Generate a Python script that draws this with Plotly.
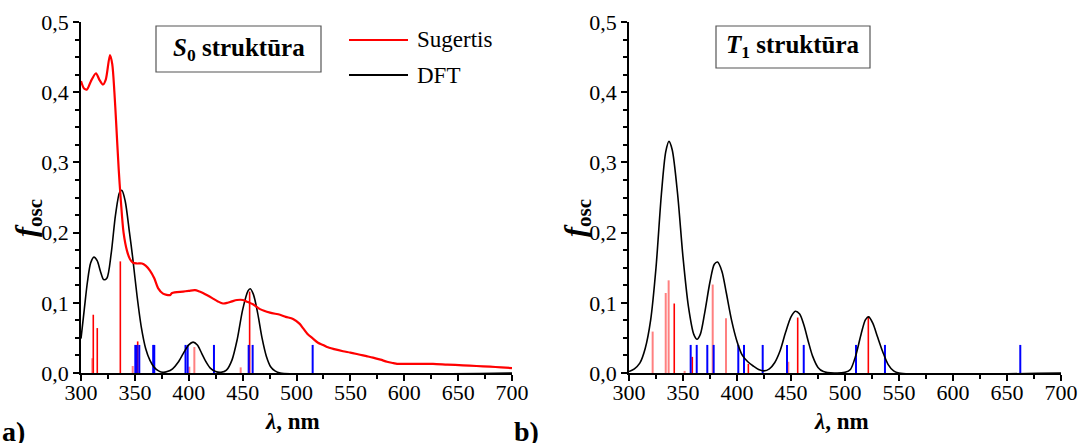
import plotly.graph_objects as go

# ---------------- data ----------------
# Panel a) experimental absorption (Sugertis)
exp_nm = [300, 303, 305.6, 309, 313.9, 317, 320.4, 323, 326.9, 329, 331, 332.5, 335, 337, 339.5,
          342.7, 345.5, 348.3, 352, 356.6, 360, 364, 368, 371.5, 376.1, 382.6, 384.5, 394.7, 400,
          405.8, 410, 413.2, 418, 422.5, 427, 431.8, 436, 440, 444.8, 450.3, 455, 459.6, 466.1,
          475.4, 484.7, 490, 496.8, 503, 506, 510, 515.3, 520, 524.6, 528.3, 535, 543.2, 550, 559,
          565, 571, 578, 584, 590, 593.3, 600, 614.6, 626.7, 640, 654.5, 667, 679.6, 690, 700]
exp_f = [0.416, 0.405, 0.404, 0.415, 0.427, 0.418, 0.411, 0.418, 0.453, 0.44, 0.40, 0.36, 0.29,
         0.245, 0.20, 0.174, 0.162, 0.157, 0.156, 0.156, 0.153, 0.146, 0.135, 0.121, 0.113, 0.111,
         0.114, 0.116, 0.117, 0.118, 0.116, 0.114, 0.110, 0.106, 0.102, 0.099, 0.100, 0.102, 0.104,
         0.104, 0.101, 0.098, 0.091, 0.086, 0.083, 0.080, 0.077, 0.070, 0.064, 0.056, 0.049, 0.043,
         0.040, 0.037, 0.034, 0.031, 0.029, 0.026, 0.024, 0.022, 0.019, 0.016, 0.014, 0.013, 0.013,
         0.013, 0.013, 0.012, 0.011, 0.010, 0.009, 0.008, 0.007]

# Panel a) DFT broadened spectrum
dftA_nm = [300, 303, 306, 309, 312, 315, 318, 321, 324, 328, 332, 336, 338, 341, 345, 348, 352,
           356, 360, 364, 368, 372, 376, 380, 385, 390, 395, 400, 404, 408, 412, 416, 420, 425,
           430, 435, 440, 445, 450, 455, 457, 460, 464, 468, 472, 476, 480, 485, 700]
dftA_f = [0.049, 0.09, 0.13, 0.157, 0.165, 0.16, 0.145, 0.133, 0.135, 0.17, 0.225, 0.258, 0.26,
          0.245, 0.20, 0.164, 0.11, 0.065, 0.035, 0.018, 0.008, 0.003, 0.001, 0.002, 0.006, 0.015,
          0.028, 0.040, 0.044, 0.040, 0.028, 0.016, 0.007, 0.002, 0.001, 0.004, 0.018, 0.048, 0.090,
          0.117, 0.12, 0.112, 0.085, 0.05, 0.024, 0.009, 0.003, 0.0, 0.0]

# Panel a) transitions
a_red_nm = [311.4, 315.1, 336.5, 352.6, 456.5]
a_red_f = [0.083, 0.064, 0.159, 0.045, 0.116]
a_pink_nm = [310.5, 348.0, 400.5, 405.2, 448.2]
a_pink_f = [0.021, 0.010, 0.009, 0.037, 0.008]
a_blue_nm = [350.4, 351.7, 354.1, 367.0, 368.0, 397.0, 399.0, 423.4, 455.6, 459.3, 515.0]
a_blue_f = [0.04] * len(a_blue_nm)

# Panel b) DFT broadened spectrum
dftB_nm = [300, 305, 310, 315, 320, 325, 330, 334, 337, 340, 345, 350, 355, 360, 363, 366, 370,
           375, 379, 382, 386, 390, 395, 400, 405, 410, 415, 420, 425, 430, 435, 440, 445, 450,
           454, 458, 462, 466, 470, 475, 480, 490, 500, 505, 510, 515, 519, 522, 526, 530, 535,
           540, 545, 550, 700]
dftB_f = [0.002, 0.006, 0.014, 0.035, 0.075, 0.150, 0.255, 0.315, 0.330, 0.318, 0.255, 0.165,
          0.095, 0.055, 0.048, 0.055, 0.085, 0.130, 0.155, 0.158, 0.145, 0.115, 0.075, 0.045,
          0.025, 0.016, 0.010, 0.005, 0.003, 0.006, 0.015, 0.032, 0.058, 0.080, 0.088, 0.084,
          0.068, 0.045, 0.024, 0.008, 0.002, 0.000, 0.001, 0.005, 0.025, 0.056, 0.076, 0.080,
          0.070, 0.052, 0.030, 0.012, 0.003, 0.000, 0.000]

# Panel b) transitions
b_red_nm = [341.9, 358.6, 410.5, 456.2, 521.6]
b_red_f = [0.099, 0.023, 0.013, 0.079, 0.081]
b_pink_nm = [321.9, 334.0, 336.7, 351.5, 377.5, 389.8, 447.5]
b_pink_f = [0.059, 0.114, 0.132, 0.003, 0.126, 0.078, 0.016]
b_blue_nm = [357.1, 362.7, 372.5, 378.4, 401.2, 406.5, 423.8, 446.3, 461.8, 510.2, 537.0, 662.3]
b_blue_f = [0.04] * len(b_blue_nm)

x_ticks = [300, 350, 400, 450, 500, 550, 600, 650, 700]
y_ticks = [0.0, 0.1, 0.2, 0.3, 0.4, 0.5]

FONT = "Liberation Serif"
W, H = 1078, 443


def sticks(nm, f):
    xs, ys = [], []
    for a, b in zip(nm, f):
        xs += [a, a, None]
        ys += [0, b, None]
    return xs, ys


fig = go.Figure()


def add_sticks(nm, f, color, xa, ya, width=2):
    xs, ys = sticks(nm, f)
    fig.add_trace(go.Scatter(x=xs, y=ys, mode="lines", line=dict(color=color, width=width),
                             xaxis=xa, yaxis=ya, showlegend=False, hoverinfo="skip"))


# panel a
add_sticks(a_pink_nm, a_pink_f, "#ff8080", "x", "y")
add_sticks(a_red_nm, a_red_f, "#ff0000", "x", "y", 1.6)
add_sticks(a_blue_nm, a_blue_f, "#0000ff", "x", "y")
fig.add_trace(go.Scatter(x=dftA_nm, y=dftA_f, mode="lines", line=dict(color="black", width=1.6, shape="spline", smoothing=0.8),
                         xaxis="x", yaxis="y", showlegend=False))
fig.add_trace(go.Scatter(x=exp_nm, y=exp_f, mode="lines", line=dict(color="#ff0000", width=2.2, shape="spline", smoothing=0.8),
                         xaxis="x", yaxis="y", showlegend=False))
# panel b
add_sticks(b_pink_nm, b_pink_f, "#ff8080", "x2", "y2")
add_sticks(b_red_nm, b_red_f, "#ff0000", "x2", "y2", 1.6)
add_sticks(b_blue_nm, b_blue_f, "#0000ff", "x2", "y2")
fig.add_trace(go.Scatter(x=dftB_nm, y=dftB_f, mode="lines", line=dict(color="black", width=1.6, shape="spline", smoothing=0.8),
                         xaxis="x2", yaxis="y2", showlegend=False))

xl = (81 / W, 512 / W)
xr = (629 / W, 1061 / W)
yd = (1 - 373 / H, 1 - 22 / H)

axis_common = dict(
    showline=True, linecolor="black", linewidth=1.5, mirror=False, automargin=False,
    ticks="outside", ticklen=6, tickwidth=1.5, tickcolor="black",
    showgrid=False, zeroline=False,
    tickfont=dict(family=FONT, size=22, color="black"),
)
xa = dict(axis_common, range=[300, 700], tickvals=x_ticks, ticktext=[str(v) for v in x_ticks],
          ticklabelstandoff=-7,
          minor=dict(dtick=25, tick0=300, ticks="outside", ticklen=4, tickwidth=1.5, tickcolor="black"))
ya = dict(axis_common, range=[0, 0.5], tickvals=y_ticks, tickformat=".1f",
          minor=dict(dtick=0.025, tick0=0, ticks="outside", ticklen=4, tickwidth=1.5, tickcolor="black"))

fig.update_layout(
    width=W, height=H,
    margin=dict(l=0, r=0, t=0, b=0, autoexpand=False),
    paper_bgcolor="white", plot_bgcolor="white",
    separators=", ",
    showlegend=False,
    xaxis=dict(xa, domain=list(xl), anchor="y"),
    yaxis=dict(ya, domain=list(yd), anchor="x"),
    xaxis2=dict(xa, domain=list(xr), anchor="y2"),
    yaxis2=dict(ya, domain=list(yd), anchor="x2"),
    font=dict(family=FONT, color="black"),
)


def A(x, y, text, size, **kw):
    d = dict(x=x / W, y=1 - y / H, xref="paper", yref="paper", showarrow=False,
             xanchor="center", yanchor="middle", text=text, font=dict(family=FONT, size=size, color="black"))
    d.update(kw)
    return d


ann = []
for xc in [(81 + 512) / 2 - 4, (629 + 1061) / 2 - 4]:
    ann.append(A(xc, 421, "<b><i>λ</i>, nm</b>", 23))
for xc in [28, 577]:
    ann.append(A(xc, 218, "<b><i>f</i><sub>osc</sub></b>", 30, textangle=-90))
ann.append(A(0, 431, "<b>a)</b>", 28, xanchor="left"))
ann.append(A(512, 431, "<b>b)</b>", 28, xanchor="left"))
ann.append(A((156 + 321) / 2, 49, "<b><i>S</i><sub>0</sub> struktūra</b>", 25))
ann.append(A((716 + 870) / 2, 47, "<b><i>T</i><sub>1</sub> struktūra</b>", 25))
ann.append(A(415, 40, "Sugertis", 23, xanchor="left"))
ann.append(A(415, 75, "DFT", 23, xanchor="left"))
fig.update_layout(annotations=ann)

shapes = [
    dict(type="rect", xref="paper", yref="paper", x0=156 / W, x1=321 / W, y0=1 - 72 / H, y1=1 - 26 / H,
         line=dict(color="#555555", width=1.2), fillcolor="white", layer="below"),
    dict(type="rect", xref="paper", yref="paper", x0=716 / W, x1=870 / W, y0=1 - 68 / H, y1=1 - 26 / H,
         line=dict(color="#555555", width=1.2), fillcolor="white", layer="below"),
    dict(type="line", xref="paper", yref="paper", x0=349 / W, x1=408 / W, y0=1 - 40 / H, y1=1 - 40 / H,
         line=dict(color="#ff0000", width=2)),
    dict(type="line", xref="paper", yref="paper", x0=349 / W, x1=408 / W, y0=1 - 75 / H, y1=1 - 75 / H,
         line=dict(color="black", width=2)),
]
fig.update_layout(shapes=shapes)

fig.write_html("out.html", config={"displayModeBar": False},
               post_script="document.body.style.margin='0';document.body.style.padding='0';")
